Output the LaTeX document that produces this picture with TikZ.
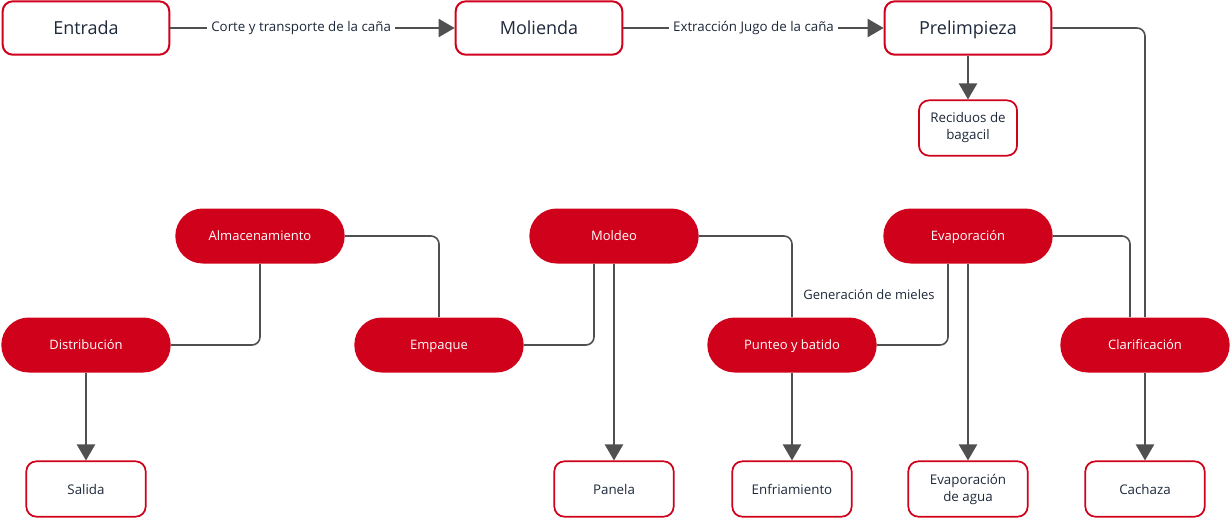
\documentclass[tikz,border=0pt]{standalone}
\usepackage{fontspec}
\setmainfont{Open Sans}
\usetikzlibrary{positioning}
\usetikzlibrary{calc}
\usetikzlibrary{arrows.meta}

\definecolor{flowred}{RGB}{208,2,27}
\definecolor{flowgray}{RGB}{80,80,80}
\definecolor{flowtext}{RGB}{30,41,59}

\begin{document}
\begin{tikzpicture}[x=0.75pt,y=-0.75pt,
      stageblock/.style={draw=flowred,line width=1.5pt,rectangle,rounded corners=7.5pt,fill=white,text=flowtext,
                         font=\fontsize{13.5}{16}\selectfont,minimum height=40pt,minimum width=125pt,inner sep=0pt,
                         text height=10.1pt,text depth=0.4pt},
      wasteblock/.style={draw=flowred,line width=1.3pt,rectangle,rounded corners=7.5pt,fill=white,text=flowtext,align=center,
                         font=\fontsize{10}{12.75}\selectfont,minimum height=41.5pt,minimum width=89.5pt,inner sep=0pt},
      processpill/.style={fill=flowred,rectangle,rounded corners=20.5pt,text=white,
                         font=\fontsize{9.75}{12}\selectfont,minimum height=41.25pt,minimum width=127pt,inner sep=0pt,
                         text height=7.3pt,text depth=0.3pt},
      flowarrow/.style={draw=flowgray,line width=1.6pt,-{Triangle[length=12pt,width=13.5pt]}},
      elbowline/.style={draw=flowgray,line width=1.2pt,rounded corners=6pt},
      flowlabel/.style={fill=white,text=flowtext,font=\fontsize{10}{12}\selectfont,inner sep=3pt}]
      \useasboundingbox (0,0) rectangle (1231,519);

      % Blocks
      \node[stageblock]                          (entrada)        at (86,28)    {Entrada};
      \node[stageblock]                          (molienda)       at (539,28)   {Molienda};
      \node[stageblock]                          (prelimpieza)    at (968,28)   {Prelimpieza};
      \node[wasteblock,minimum width=73.5pt]     (reciduos)       at (968,128)  {Reciduos de\\bagacil};

      % Pills
      \node[processpill]                         (almacenamiento) at (260,236)  {Almacenamiento};
      \node[processpill]                         (moldeo)         at (614,236)  {Moldeo};
      \node[processpill]                         (evaporacion)    at (968,236)  {Evaporación};
      \node[processpill]                         (distribucion)   at (86,345)   {Distribución};
      \node[processpill]                         (empaque)        at (439,345)  {Empaque};
      \node[processpill]                         (punteo)         at (792,345)  {Punteo y batido};
      \node[processpill]                         (clarificacion)  at (1145,345) {Clarificación};

      % Results
      \node[wasteblock]                          (salida)         at (86,489)   {Salida};
      \node[wasteblock]                          (panela)         at (614,489)  {Panela};
      \node[wasteblock]                          (enfriamiento)   at (792,489)  {Enfriamiento};
      \node[wasteblock]                          (agua)           at (968,489)  {Evaporación\\de agua};
      \node[wasteblock]                          (cachaza)        at (1145,489) {Cachaza};

      \node[text=flowtext,font=\fontsize{9.75}{11}\selectfont] (mieles) at (869,295) {Generación de mieles};

      % Arrows
      \draw[flowarrow] (entrada)  -- node[flowlabel,pos=0.46]{Corte y transporte de la caña} (molienda);
      \draw[flowarrow] (molienda) -- node[flowlabel]{Extracción Jugo de la caña}    (prelimpieza);
      \draw[flowarrow] (prelimpieza)   -- (reciduos);
      \draw[flowarrow] (distribucion)  -- (salida);
      \draw[flowarrow] (moldeo.south)  -- (panela.north);
      \draw[flowarrow] (punteo)        -- (enfriamiento);
      \draw[flowarrow] (evaporacion)   -- (agua);
      \draw[flowarrow] (clarificacion) -- (cachaza);

      % Elbows
      \draw[elbowline] (prelimpieza.east) -| (clarificacion.north);
      \draw[elbowline] (evaporacion.east) -| ($(clarificacion.north)+(-15,0)$);
      \draw[elbowline] ($(evaporacion.south)+(-20,0)$) |- (punteo.east);
      \draw[elbowline] (moldeo.east) -| (punteo.north);
      \draw[elbowline] ($(moldeo.south)+(-20,0)$) |- (empaque.east);
      \draw[elbowline] (almacenamiento.east) -| (empaque.north);
      \draw[elbowline] (almacenamiento.south) |- (distribucion.east);

    \end{tikzpicture}
\end{document}
